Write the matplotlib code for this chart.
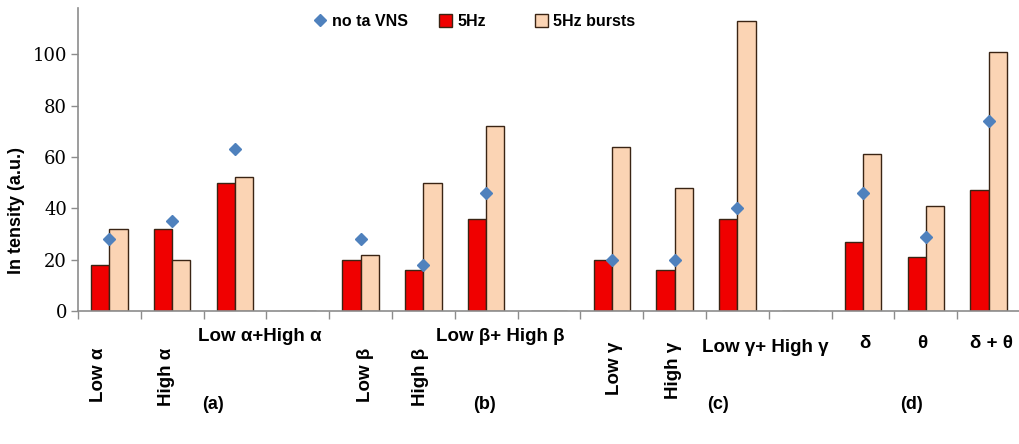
## intensity bar chart: 5Hz vs 5Hz bursts, with no ta VNS markers ##

import numpy as np
import matplotlib
matplotlib.use('Agg')
import matplotlib.pyplot as plt
from matplotlib.lines import Line2D
from matplotlib.patches import Patch
import matplotlib.transforms as mtransforms

## DATA ##
categories = ['Low α', 'High α', 'Low α+High α', '',
              'Low β', 'High β', 'Low β+ High β', '',
              'Low γ', 'High γ', 'Low γ+ High γ', '',
              'δ', 'θ', 'δ + θ']
hz5        = [18, 32, 50, 0, 20, 16, 36, 0, 20, 16, 36, 0, 27, 21, 47]
hz5_bursts = [32, 20, 52, 0, 22, 50, 72, 0, 64, 48, 113, 0, 61, 41, 101]
no_vns     = [28, 35, 63, np.nan, 28, 18, 46, np.nan, 20, 20, 40, np.nan, 46, 29, 74]
group_names = ['(a)', '(b)', '(c)', '(d)']
yticks = [0, 20, 40, 60, 80, 100]

## STYLE ##
red = '#f00000'
peach = '#fbd4b4'
edge = '#3a2414'
blue = '#4f81bd'
gray = '#8c8c8c'
barW = 0.29

fig = plt.figure(figsize=(10.2, 4.44), dpi=100)
ax = fig.add_axes([0.0765, 0.2995, 0.9235, 0.6825])

x = np.arange(len(categories))
ax.bar(x - barW/2, hz5, barW, color=red, edgecolor=edge, linewidth=1.0, zorder=2)
ax.bar(x + barW/2, hz5_bursts, barW, color=peach, edgecolor=edge, linewidth=1.0, zorder=2)
ax.plot(x, no_vns, linestyle='none', marker='D', markersize=6.5, color=blue, zorder=3)

ax.set_xlim(-0.5, len(categories) - 0.5)
ax.set_ylim(0, 118)

# spines / ticks
for s in ['top', 'right']:
    ax.spines[s].set_visible(False)
for s in ['left', 'bottom']:
    ax.spines[s].set_color(gray)
    ax.spines[s].set_linewidth(1.2)
ax.set_xticks(np.arange(len(categories) + 1) - 0.5)
ax.set_xticklabels([])
ax.tick_params(axis='x', direction='out', length=6, color=gray, width=1)
ax.set_yticks(yticks)
ax.set_yticklabels([str(t) for t in yticks], fontfamily='DejaVu Serif', fontsize=13)
ax.tick_params(axis='y', direction='out', length=5, color=gray, width=1, pad=3)

ax.set_ylabel('In tensity (a.u.)', fontfamily='Liberation Sans', fontweight='bold', fontsize=13)
ax.yaxis.set_label_coords(-0.056, 0.333)

# category labels below axis
trans = mtransforms.blended_transform_factory(ax.transData, ax.transAxes)
lab_font = dict(fontfamily='Liberation Sans', fontweight='bold', fontsize=13.5)
rot_pos = {0: (-0.17, -0.122), 1: (0.91, -0.122), 4: (4.08, -0.122), 5: (4.95, -0.122),
           8: (8.05, -0.102), 9: (8.98, -0.102)}
flat_pos = {2: (2.39, -0.083), 6: (6.22, -0.083), 10: (10.44, -0.12),
            12: (12.03, -0.106), 13: (12.95, -0.106), 14: (14.05, -0.106)}
for i, (px, py) in rot_pos.items():
    ax.text(px, py, categories[i], transform=trans, rotation=90, ha='center', va='top', **lab_font)
for i, (px, py) in flat_pos.items():
    ax.text(px, py, categories[i], transform=trans, ha='center', va='center', **lab_font)

group_x = [1.65, 5.97, 9.69, 12.77]
for gx, g in zip(group_x, group_names):
    ax.text(gx, -0.31, g, transform=trans, ha='center', va='center',
            fontfamily='Liberation Sans', fontweight='bold', fontsize=13)

# legend (two pieces, the gaps in the original are uneven)
leg_prop = dict(family='Liberation Sans', weight='bold', size=11.5)
leg_kw = dict(loc='center left', frameon=False, handlelength=0.8, handleheight=0.9,
              handletextpad=0.35, prop=leg_prop)
h1 = [Line2D([], [], linestyle='none', marker='D', markersize=6, color=blue),
      Patch(facecolor=red, edgecolor=edge)]
leg1 = ax.legend(h1, ['no ta VNS', '5Hz'], bbox_to_anchor=(0.235, 0.955), ncol=2,
                 columnspacing=1.95, **leg_kw)
ax.add_artist(leg1)
h2 = [Patch(facecolor=peach, edgecolor=edge)]
ax.legend(h2, ['5Hz bursts'], bbox_to_anchor=(0.470, 0.955), **leg_kw)

fig.savefig('out.png', dpi=100)
